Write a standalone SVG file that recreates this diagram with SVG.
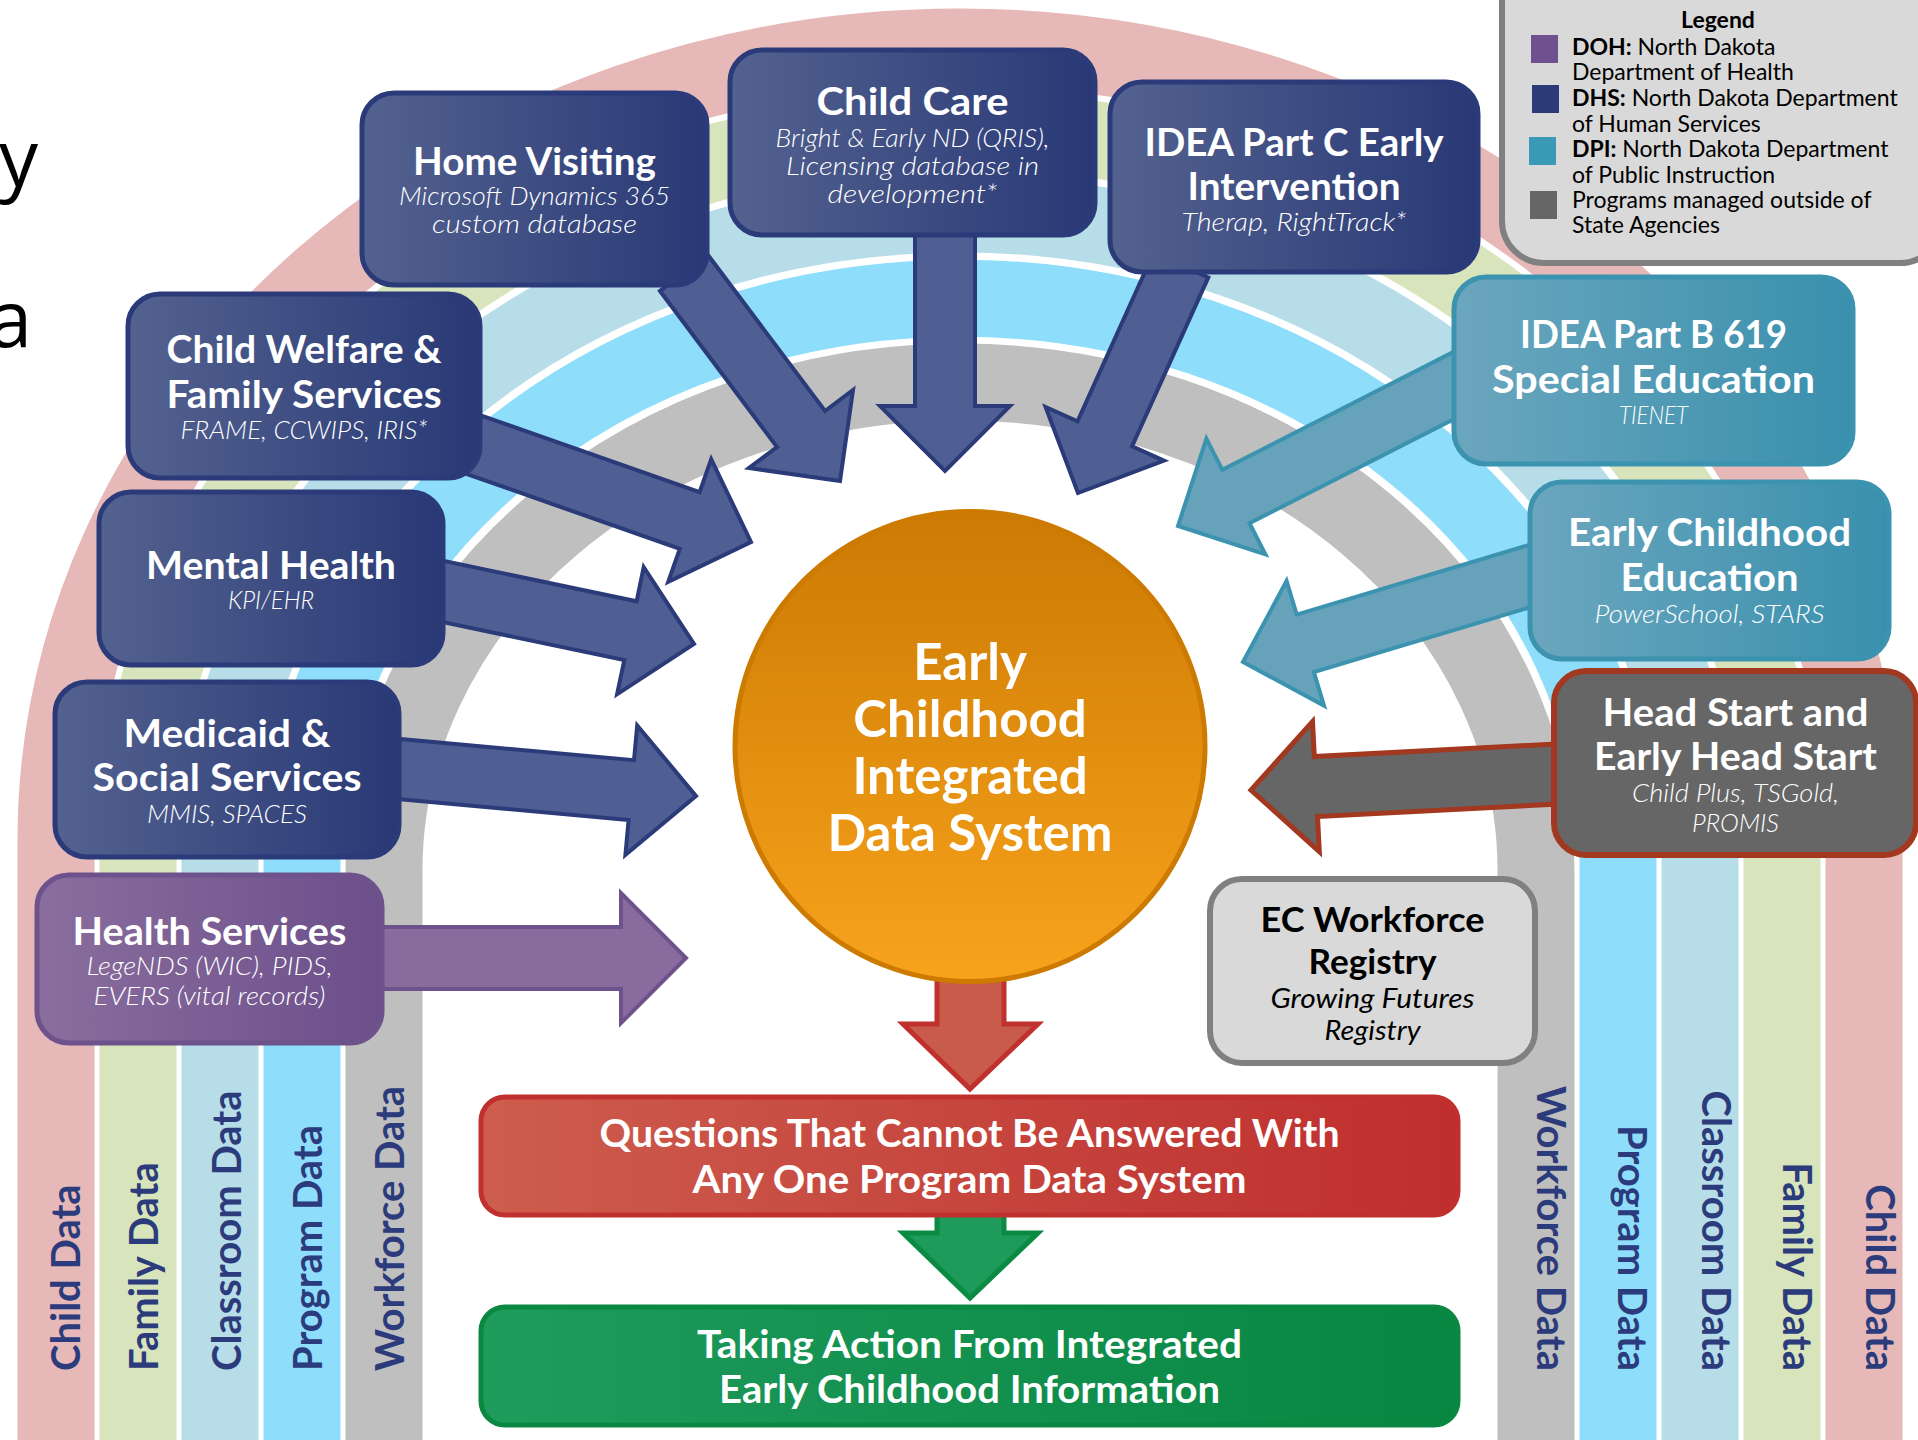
<svg xmlns="http://www.w3.org/2000/svg" width="1918" height="1440" viewBox="0 0 1918 1440">
<defs>
<linearGradient id="gNavy" x1="0" y1="0" x2="1" y2="0"><stop offset="0" stop-color="#53628F"/><stop offset="1" stop-color="#293976"/></linearGradient>
<linearGradient id="gPurple" x1="0" y1="0" x2="1" y2="0"><stop offset="0" stop-color="#8A6E9E"/><stop offset="1" stop-color="#6C4F8A"/></linearGradient>
<linearGradient id="gTeal" x1="0" y1="0" x2="1" y2="0"><stop offset="0" stop-color="#6BA6BE"/><stop offset="1" stop-color="#3990AD"/></linearGradient>
<linearGradient id="gRed" x1="0" y1="0" x2="1" y2="0"><stop offset="0" stop-color="#CD5D4D"/><stop offset="1" stop-color="#BF2E2E"/></linearGradient>
<linearGradient id="gGreen" x1="0" y1="0" x2="1" y2="0"><stop offset="0" stop-color="#1F9B5C"/><stop offset="1" stop-color="#078641"/></linearGradient>
<linearGradient id="gOrange" x1="0" y1="0" x2="0" y2="1"><stop offset="0" stop-color="#CB7A03"/><stop offset="1" stop-color="#F8A31C"/></linearGradient>
</defs>
<style>
.band{fill:none;stroke-width:77}
.b-dhs{fill:url(#gNavy);stroke:#2B3B79;stroke-width:5}
.b-doh{fill:url(#gPurple);stroke:#6E528C;stroke-width:5}
.b-dpi{fill:url(#gTeal);stroke:#3B93B0;stroke-width:5}
.b-hs{fill:#666666;stroke:#A1381F;stroke-width:6}
.b-ec{fill:#D9D9D9;stroke:#808080;stroke-width:6}
.a-dhs{fill:#4F5F93;stroke:#2B3B79;stroke-width:4}
.a-doh{fill:#896C9D;stroke:#6E528C;stroke-width:4}
.a-dpi{fill:#67A2BB;stroke:#3C93B0;stroke-width:4}
.a-hs{fill:#666666;stroke:#A1381F;stroke-width:5}
.a-red{fill:#C95B4B;stroke:#C0312E;stroke-width:5}
.a-green{fill:#1E9A5A;stroke:#0B8A43;stroke-width:5}
.t{font-family:Lato,"Liberation Sans",sans-serif;fill:#FFFFFF;text-anchor:middle}
.h{font-weight:700;font-size:38.5px}
.s{font-style:italic;font-weight:300;font-size:24.5px}
.k{fill:#000000}
.c{font-weight:700;font-size:51px}
.q{font-weight:700;font-size:39px}
.vl{font-family:Lato,"Liberation Sans",sans-serif;font-weight:700;font-size:40px;fill:#2B3B7B}
.lg{font-family:Lato,"Liberation Sans",sans-serif;font-size:23px;fill:#000000}
</style>
<rect x="0" y="0" width="1918" height="1440" fill="#FFFFFF"/>
<g id="rainbow">
<path class="band" stroke="#E6B8B7" d="M56,1450 V840 A904,793 0 0 1 1864,840 V1450"/>
<path class="band" stroke="#D8E4BC" d="M138,1450 V845 A822,715 0 0 1 1782,845 V1450"/>
<path class="band" stroke="#B7DDE8" d="M220,1450 V852 A740,638 0 0 1 1700,852 V1450"/>
<path class="band" stroke="#8EDEFB" d="M302,1450 V860 A658,562 0 0 1 1618,860 V1450"/>
<path class="band" stroke="#BFBFBF" d="M384,1450 V870 A576,488 0 0 1 1536,870 V1450"/>
<text class="vl" transform="translate(80,1371) rotate(-90)">Child Data</text>
<text class="vl" transform="translate(158,1371) rotate(-90)">Family Data</text>
<text class="vl" transform="translate(241,1371) rotate(-90)">Classroom Data</text>
<text class="vl" transform="translate(322,1371) rotate(-90)">Program Data</text>
<text class="vl" transform="translate(404,1371) rotate(-90)">Workforce Data</text>
<text class="vl" text-anchor="end" transform="translate(1537,1371) rotate(90)">Workforce Data</text>
<text class="vl" text-anchor="end" transform="translate(1618,1371) rotate(90)">Program Data</text>
<text class="vl" text-anchor="end" transform="translate(1702,1371) rotate(90)">Classroom Data</text>
<text class="vl" text-anchor="end" transform="translate(1783,1371) rotate(90)">Family Data</text>
<text class="vl" text-anchor="end" transform="translate(1866,1371) rotate(90)">Child Data</text>
</g>
<g id="title-fragments" font-family="'Open Sans',sans-serif" font-size="78" fill="#000000" text-anchor="end">
<text x="38" y="186">y</text>
<text x="32" y="347">a</text>
</g>
<g id="connectors">
<polygon class="a-dhs" points="660,291 777,447 749,468 840,481 853,390 825,411 708,255"/>
<polygon class="a-dhs" points="915,220 915,406 880,406 945,471 1010,406 975,406 975,220"/>
<polygon class="a-dhs" points="1153.7,252.6 1077.5,421.4 1045.6,407 1078,493 1164,460.6 1132.1,446.2 1208.3,277.4"/>
<polygon class="a-dhs" points="439.1,464.3 679.8,548.8 668.2,581.8 751,542 711.2,459.2 699.6,492.2 458.9,407.7"/>
<polygon class="a-dhs" points="394.2,611.9 624.3,660.1 617.1,694.3 694,644 643.7,567.1 636.6,601.3 406.5,553.1"/>
<polygon class="a-dhs" points="394.5,798.7 628.6,820 625.4,854.8 696,796 637.2,725.4 634,760.2 399.9,738.9"/>
<polygon class="a-doh" points="360,989 621,989 621,1023 686,958 621,893 621,927 360,927"/>
<polygon class="a-dpi" points="1467.4,344.9 1222.3,469.8 1206.4,438.6 1178,526 1265.4,554.4 1249.5,523.2 1494.6,398.3"/>
<polygon class="a-dpi" points="1560.1,535.7 1296.7,614.6 1286.6,581 1243,662 1324,705.6 1313.9,672 1577.3,593.1"/>
<polygon class="a-hs" points="1588.9,742.3 1314.3,756.6 1312.5,721.7 1251,790 1319.3,851.5 1317.5,816.6 1592.1,802.3"/>
<polygon class="a-red" points="937,960 937,1024 903,1024 970,1089 1038,1024 1004,1024 1004,960"/>
<polygon class="a-green" points="937,1200 937,1233 903,1233 970,1298 1038,1233 1004,1233 1004,1200"/>
</g>
<g id="node-home-visiting">
<rect class="b-dhs" x="362" y="93" width="345" height="192" rx="32"/>
<text class="t h" x="534.5" y="175" textLength="243" lengthAdjust="spacingAndGlyphs">Home Visiting</text>
<text class="t s" x="534.5" y="205" textLength="271" lengthAdjust="spacingAndGlyphs">Microsoft Dynamics 365</text>
<text class="t s" x="534.5" y="233" textLength="205" lengthAdjust="spacingAndGlyphs">custom database</text>
</g>
<g id="node-child-care">
<rect class="b-dhs" x="730" y="50" width="365" height="185" rx="32"/>
<text class="t h" x="912.5" y="115" textLength="192" lengthAdjust="spacingAndGlyphs">Child Care</text>
<text class="t s" x="912.5" y="147" textLength="274" lengthAdjust="spacingAndGlyphs">Bright &amp; Early ND (QRIS),</text>
<text class="t s" x="912.5" y="175" textLength="253" lengthAdjust="spacingAndGlyphs">Licensing database in</text>
<text class="t s" x="912.5" y="203" textLength="170" lengthAdjust="spacingAndGlyphs">development*</text>
</g>
<g id="node-idea-c">
<rect class="b-dhs" x="1110" y="82" width="368" height="190" rx="32"/>
<text class="t h" x="1294" y="156" textLength="299" lengthAdjust="spacingAndGlyphs">IDEA Part C Early</text>
<text class="t h" x="1294" y="200" textLength="213" lengthAdjust="spacingAndGlyphs">Intervention</text>
<text class="t s" x="1294" y="231" textLength="225" lengthAdjust="spacingAndGlyphs">Therap, RightTrack*</text>
</g>
<g id="node-child-welfare">
<rect class="b-dhs" x="128" y="294" width="352" height="184" rx="32"/>
<text class="t h" x="304" y="363" textLength="275" lengthAdjust="spacingAndGlyphs">Child Welfare &amp;</text>
<text class="t h" x="304" y="408" textLength="275" lengthAdjust="spacingAndGlyphs">Family Services</text>
<text class="t s" x="304" y="439" textLength="247" lengthAdjust="spacingAndGlyphs">FRAME, CCWIPS, IRIS*</text>
</g>
<g id="node-mental-health">
<rect class="b-dhs" x="99" y="492" width="344" height="173" rx="32"/>
<text class="t h" x="271" y="579" textLength="250" lengthAdjust="spacingAndGlyphs">Mental Health</text>
<text class="t s" x="271" y="609" textLength="86" lengthAdjust="spacingAndGlyphs">KPI/EHR</text>
</g>
<g id="node-medicaid">
<rect class="b-dhs" x="55" y="682" width="344" height="175" rx="32"/>
<text class="t h" x="227" y="747" textLength="207" lengthAdjust="spacingAndGlyphs">Medicaid &amp;</text>
<text class="t h" x="227" y="791" textLength="269" lengthAdjust="spacingAndGlyphs">Social Services</text>
<text class="t s" x="227" y="823" textLength="160" lengthAdjust="spacingAndGlyphs">MMIS, SPACES</text>
</g>
<g id="node-health-services">
<rect class="b-doh" x="37" y="875" width="345" height="168" rx="32"/>
<text class="t h" x="209.5" y="945" textLength="274" lengthAdjust="spacingAndGlyphs">Health Services</text>
<text class="t s" x="209.5" y="975" textLength="246" lengthAdjust="spacingAndGlyphs">LegeNDS (WIC), PIDS,</text>
<text class="t s" x="209.5" y="1005" textLength="232" lengthAdjust="spacingAndGlyphs">EVERS (vital records)</text>
</g>
<g id="node-idea-b">
<rect class="b-dpi" x="1454" y="277" width="399" height="187" rx="32"/>
<text class="t h" x="1653.5" y="348" textLength="267" lengthAdjust="spacingAndGlyphs">IDEA Part B 619</text>
<text class="t h" x="1653.5" y="393" textLength="323" lengthAdjust="spacingAndGlyphs">Special Education</text>
<text class="t s" x="1653.5" y="424" textLength="69" lengthAdjust="spacingAndGlyphs">TIENET</text>
</g>
<g id="node-ece">
<rect class="b-dpi" x="1530" y="482" width="359" height="177" rx="32"/>
<text class="t h" x="1709.5" y="546" textLength="283" lengthAdjust="spacingAndGlyphs">Early Childhood</text>
<text class="t h" x="1709.5" y="591" textLength="178" lengthAdjust="spacingAndGlyphs">Education</text>
<text class="t s" x="1709.5" y="623" textLength="230" lengthAdjust="spacingAndGlyphs">PowerSchool, STARS</text>
</g>
<g id="node-head-start">
<rect class="b-hs" x="1554" y="671" width="362" height="184" rx="32"/>
<text class="t h" x="1735.5" y="726" textLength="266" lengthAdjust="spacingAndGlyphs">Head Start and</text>
<text class="t h" x="1735.5" y="770" textLength="283" lengthAdjust="spacingAndGlyphs">Early Head Start</text>
<text class="t s" x="1735.5" y="802" textLength="207" lengthAdjust="spacingAndGlyphs">Child Plus, TSGold,</text>
<text class="t s" x="1735.5" y="832" textLength="87" lengthAdjust="spacingAndGlyphs">PROMIS</text>
</g>
<g id="node-ec-workforce">
<rect class="b-ec" x="1210" y="879" width="325" height="184" rx="32"/>
<text class="t k" font-weight="700" font-size="34" x="1372.5" y="932" textLength="224" lengthAdjust="spacingAndGlyphs">EC Workforce</text>
<text class="t k" font-weight="700" font-size="34" x="1372.5" y="974" textLength="128" lengthAdjust="spacingAndGlyphs">Registry</text>
<text class="t k" font-style="italic" font-size="27" x="1372.5" y="1008" textLength="204" lengthAdjust="spacingAndGlyphs">Growing Futures</text>
<text class="t k" font-style="italic" font-size="27" x="1372.5" y="1040" textLength="96" lengthAdjust="spacingAndGlyphs">Registry</text>
</g>
<g id="node-ecids">
<circle cx="970" cy="746.5" r="235" fill="url(#gOrange)" stroke="#CC7A00" stroke-width="5"/>
<text class="t c" x="970" y="680">Early</text>
<text class="t c" x="970" y="737">Childhood</text>
<text class="t c" x="970" y="794">Integrated</text>
<text class="t c" x="970" y="851">Data System</text>
</g>
<g id="node-questions">
<rect x="481" y="1097" width="977" height="118" rx="24" fill="url(#gRed)" stroke="#C0302F" stroke-width="5"/>
<text class="t q" x="969.5" y="1147" textLength="740" lengthAdjust="spacingAndGlyphs">Questions That Cannot Be Answered With</text>
<text class="t q" x="969.5" y="1193" textLength="554" lengthAdjust="spacingAndGlyphs">Any One Program Data System</text>
</g>
<g id="node-action">
<rect x="481" y="1307" width="977" height="118" rx="24" fill="url(#gGreen)" stroke="#0A8741" stroke-width="5"/>
<text class="t q" x="969.5" y="1358" textLength="545" lengthAdjust="spacingAndGlyphs">Taking Action From Integrated</text>
<text class="t q" x="969.5" y="1403" textLength="501" lengthAdjust="spacingAndGlyphs">Early Childhood Information</text>
</g>
<g id="legend">
<rect x="1502" y="-40" width="440" height="303" rx="42" fill="#D9D9D9" stroke="#808080" stroke-width="6"/>
<text class="lg" x="1718" y="28" text-anchor="middle" font-weight="700">Legend</text>
<rect x="1531" y="35" width="27" height="28" fill="#6F5190"/>
<rect x="1532" y="85" width="27" height="28" fill="#2B3B7A"/>
<rect x="1529" y="137" width="27" height="28" fill="#3A9AB5"/>
<rect x="1530" y="191" width="27" height="28" fill="#666666"/>
<text class="lg" x="1572" y="55"><tspan font-weight="700">DOH:</tspan> North Dakota</text>
<text class="lg" x="1572" y="80">Department of Health</text>
<text class="lg" x="1572" y="106"><tspan font-weight="700">DHS:</tspan> North Dakota Department</text>
<text class="lg" x="1572" y="132">of Human Services</text>
<text class="lg" x="1572" y="157"><tspan font-weight="700">DPI:</tspan> North Dakota Department</text>
<text class="lg" x="1572" y="183">of Public Instruction</text>
<text class="lg" x="1572" y="208">Programs managed outside of</text>
<text class="lg" x="1572" y="233">State Agencies</text>
</g>
</svg>
